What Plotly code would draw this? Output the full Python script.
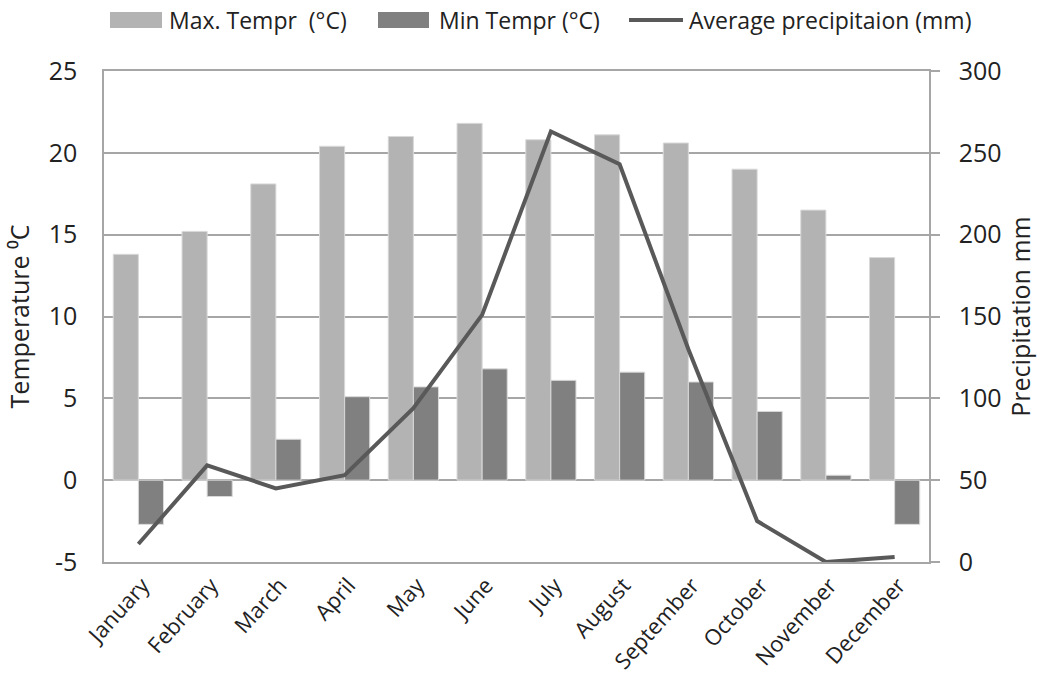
import plotly.graph_objects as go

months = ["January", "February", "March", "April", "May", "June", "July",
          "August", "September", "October", "November", "December"]
max_temp = [13.8, 15.2, 18.1, 20.4, 21.0, 21.8, 20.8, 21.1, 20.6, 19.0, 16.5, 13.6]
min_temp = [-2.7, -1.0, 2.5, 5.1, 5.7, 6.8, 6.1, 6.6, 6.0, 4.2, 0.3, -2.7]
precip = [11, 59, 45, 53, 94, 151, 263, 243, 130, 25, 0, 3]

temp_ticks = [-5, 0, 5, 10, 15, 20, 25]
precip_ticks = [0, 50, 100, 150, 200, 250, 300]

legend_labels = ["Max. Tempr \u00a0(°C)", "Min Tempr (°C)", "Average precipitaion (mm)"]

FONT = "'Open Sans', Lato, sans-serif"
TXT = "#222222"
GRID = "#a6a6a6"
MAX_COLOR = "#b3b3b3"
MIN_COLOR = "#808080"
LINE_COLOR = "#595959"

W, H = 1039, 679
ML, MR, MT, MB = 104, 110, 71, 117
PW, PH = W - ML - MR, H - MT - MB


def px(x):
    """Horizontal pixel position -> paper fraction."""
    return (x - ML) / PW


def py(y):
    """Vertical pixel position (from top) -> paper fraction."""
    return (H - MB - y) / PH


fig = go.Figure()
fig.add_trace(go.Bar(
    x=months, y=max_temp, name=legend_labels[0],
    marker=dict(color=MAX_COLOR, line=dict(color="#d9d9d9", width=1)),
))
fig.add_trace(go.Bar(
    x=months, y=min_temp, name=legend_labels[1],
    marker=dict(color=MIN_COLOR, line=dict(color="#d9d9d9", width=1)),
))
fig.add_trace(go.Scatter(
    x=months, y=precip, name=legend_labels[2], yaxis="y2",
    mode="lines", line=dict(color=LINE_COLOR, width=4),
))

# Legend row across the top: wide swatches followed by their labels
legend_row_y = 20
swatches = [
    (110, 162, "rect", MAX_COLOR, 167),
    (378, 429, "rect", MIN_COLOR, 437),
    (629, 683, "line", LINE_COLOR, 687),
]
shapes, annotations = [], []
for (x0, x1, kind, color, tx), label in zip(swatches, legend_labels):
    if kind == "rect":
        shapes.append(dict(
            type="rect", xref="paper", yref="paper",
            x0=px(x0), x1=px(x1), y0=py(legend_row_y + 8), y1=py(legend_row_y - 8),
            fillcolor=color, line=dict(width=0),
        ))
    else:
        shapes.append(dict(
            type="line", xref="paper", yref="paper",
            x0=px(x0), x1=px(x1), y0=py(legend_row_y), y1=py(legend_row_y),
            line=dict(color=color, width=4),
        ))
    annotations.append(dict(
        xref="paper", yref="paper", x=px(tx), y=py(legend_row_y),
        xanchor="left", yanchor="middle", showarrow=False,
        text=label, font=dict(size=23, color=TXT, family=FONT),
    ))

fig.update_layout(
    width=W, height=H,
    margin=dict(l=ML, r=MR, t=MT, b=MB, autoexpand=False),
    paper_bgcolor="white", plot_bgcolor="white",
    font=dict(family=FONT, size=23, color=TXT),
    barmode="group", bargap=0.27, bargroupgap=0,
    showlegend=False,
    shapes=shapes,
    annotations=annotations,
    xaxis=dict(
        tickangle=-48, tickfont=dict(size=22, color=TXT), ticklabelshift=4,
        showline=True, linecolor=GRID, linewidth=1.5, mirror=True,
        ticks="", showgrid=False, automargin=False,
    ),
    yaxis=dict(
        range=[-5, 25], automargin=False,
        tickvals=temp_ticks, ticktext=[str(v) for v in temp_ticks],
        title=dict(text="Temperature ⁰C", font=dict(size=25, color=TXT), standoff=12),
        tickfont=dict(size=25, color=TXT),
        showgrid=True, gridcolor=GRID, gridwidth=1.5,
        showline=True, linecolor=GRID, linewidth=1.5,
        zeroline=True, zerolinecolor=GRID, zerolinewidth=1.5,
        ticks="", ticklabelstandoff=20,
    ),
    yaxis2=dict(
        range=[0, 300], overlaying="y", side="right", automargin=False,
        tickvals=precip_ticks, ticktext=[str(v) for v in precip_ticks],
        title=dict(text="Precipitation mm", font=dict(size=25, color=TXT), standoff=12),
        tickfont=dict(size=25, color=TXT),
        showgrid=False, zeroline=False,
        showline=True, linecolor=GRID, linewidth=1.5,
        ticks="outside", ticklen=9, tickcolor=GRID, tickwidth=1.5,
        ticklabelstandoff=14,
    ),
)

fig.write_html("out.html")
